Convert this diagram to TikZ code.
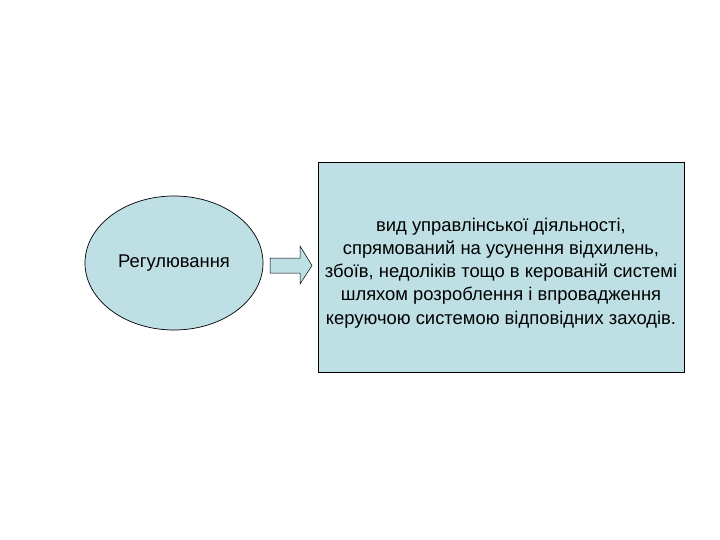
\documentclass[tikz,border=0pt]{standalone}
\usepackage{fontspec}
\setmainfont{Liberation Sans}
\usetikzlibrary{shapes.geometric,shapes.arrows}
\definecolor{boxfill}{RGB}{190,224,228}
\begin{document}
\begin{tikzpicture}[x=1pt,y=-1pt,
  shapebox/.style={draw=black,line width=0.7pt,fill=boxfill},
  txt/.style={font=\fontsize{18.4}{23.2}\selectfont,align=center}]
\useasboundingbox (0,0) rectangle (720,540);
\fill[white] (0,0) rectangle (720,540);
\node[shapebox,ellipse,minimum width=178pt,minimum height=134pt,inner sep=0pt,txt] (reg) at (174,263) {Регулювання};
\draw[shapebox,line width=0.5pt] (270,258) -- (300,258) -- (300,246) -- (312,265.5) -- (300,284) -- (300,273) -- (270,273) -- cycle;
\draw[shapebox] (318,162) rectangle (684,372);
\node[txt] (def) at (501,273) {вид управлінської діяльності,\\спрямований на усунення відхилень,\\збоїв, недоліків тощо в керованій системі\\шляхом розроблення і впровадження\\керуючою системою відповідних заходів.};
\end{tikzpicture}
\end{document}
